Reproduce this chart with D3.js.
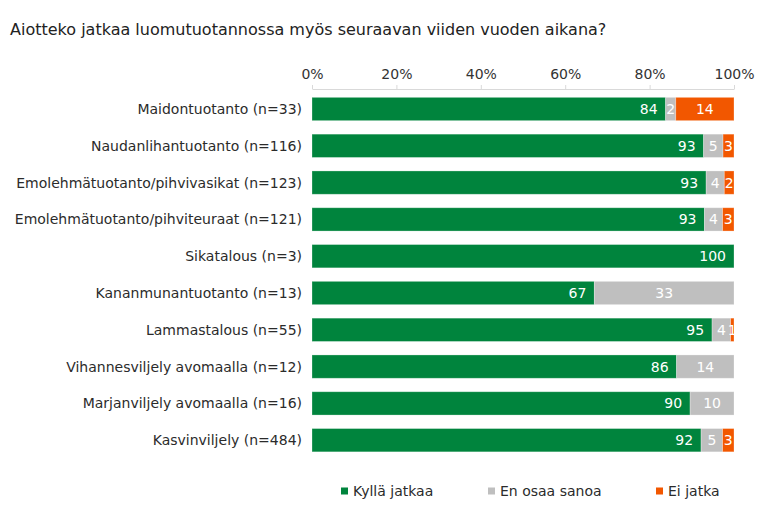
<!DOCTYPE html>
<html><head><meta charset="utf-8">
<script src="https://cdn.jsdelivr.net/npm/d3@7"></script>
<style>body{margin:0;background:#fff}svg{display:block;font-family:"DejaVu Sans",Verdana,sans-serif}</style>
</head><body><svg id="c" width="772" height="525"></svg>
<script>
const title = "Aiotteko jatkaa luomutuotannossa myös seuraavan viiden vuoden aikana?";
const categories = ["Maidontuotanto (n=33)","Naudanlihantuotanto (n=116)","Emolehmätuotanto/pihvivasikat (n=123)","Emolehmätuotanto/pihviteuraat (n=121)","Sikatalous (n=3)","Kananmunantuotanto (n=13)","Lammastalous (n=55)","Vihannesviljely avomaalla (n=12)","Marjanviljely avomaalla (n=16)","Kasvinviljely (n=484)"];
const seriesNames = ["Kyllä jatkaa","En osaa sanoa","Ei jatka"];
const kylla = [83.8,92.8,93.4,93.0,100,66.9,94.8,86.4,89.6,92.2];
const enOsaa = [2.4,4.6,4.3,4.3,0,33.1,4.4,13.6,10.4,5.1];
const eiJatka = [13.8,2.6,2.3,2.7,0,0,0.8,0,0,2.7];
const tickValues = [0,20,40,60,80,100];
const colors = ["#00843d","#bfbfbf","#f25700"];

const svg = d3.select("#c");
const textCol = "#2b2b2b";
svg.append("text").attr("x",10).attr("y",35).attr("font-size",16).attr("fill","#222").text(title);

const x = d3.scaleLinear().domain([0,100]).range([312,734]);
const step = 36.8, n = categories.length;
const y = d3.scaleBand().domain(categories).range([90.6, 90.6+step*n]).paddingInner(0.367).paddingOuter(0.1835);

// axis
const ax = svg.append("g").attr("transform","translate(0,89)")
  .call(d3.axisTop(x).tickValues(tickValues).tickFormat(d=>d+"%").tickSize(4).tickSizeOuter(0));
ax.select(".domain").attr("stroke","#d9d9d9");
ax.selectAll(".tick line").attr("stroke","#d9d9d9");
ax.selectAll(".tick text").attr("font-size",14).attr("fill","#333").attr("font-family","DejaVu Sans, Verdana, sans-serif").attr("dy","-0.2em");

// category labels
svg.append("g").selectAll("text").data(categories).join("text")
  .attr("x",302).attr("y",d=>y(d)+y.bandwidth()/2).attr("dy","0.35em")
  .attr("text-anchor","end").attr("font-size",14).attr("fill",textCol).text(d=>d);

const series = [kylla,enOsaa,eiJatka];
const rows = categories.map((c,i)=>{
  let acc=0; return series.map((s,k)=>{const v=s[i]; const r={cat:c,k,v,x0:acc,x1:acc+v}; acc+=v; return r;});
});
const segs = rows.flat().filter(d=>d.v>0);
const g = svg.append("g");
g.selectAll("rect").data(segs).join("rect")
  .attr("x",d=>x(d.x0)).attr("width",d=>x(d.x1)-x(d.x0))
  .attr("y",d=>y(d.cat)).attr("height",y.bandwidth())
  .attr("fill",d=>colors[d.k]).attr("stroke","rgba(255,255,255,0.35)").attr("stroke-width",0.8);
g.selectAll("text").data(segs).join("text")
  .attr("x",d=>d.k===0 ? x(d.x1)-8 : (x(d.x0)+x(d.x1))/2)
  .attr("text-anchor",d=>d.k===0?"end":"middle")
  .attr("y",d=>y(d.cat)+y.bandwidth()/2).attr("dy","0.36em")
  .attr("font-size",14).attr("fill","#fff").text(d=>Math.round(d.v));

// legend
const legX = [341,488,656];
const lg = svg.append("g").selectAll("g").data(seriesNames).join("g")
  .attr("transform",(d,i)=>`translate(${legX[i]},491)`);
lg.append("rect").attr("x",0).attr("y",-3.5).attr("width",7).attr("height",7).attr("fill",(d,i)=>colors[i]);
lg.append("text").attr("x",12).attr("y",0).attr("dy","0.36em").attr("font-size",14).attr("fill",textCol).text(d=>d);
</script></body></html>
